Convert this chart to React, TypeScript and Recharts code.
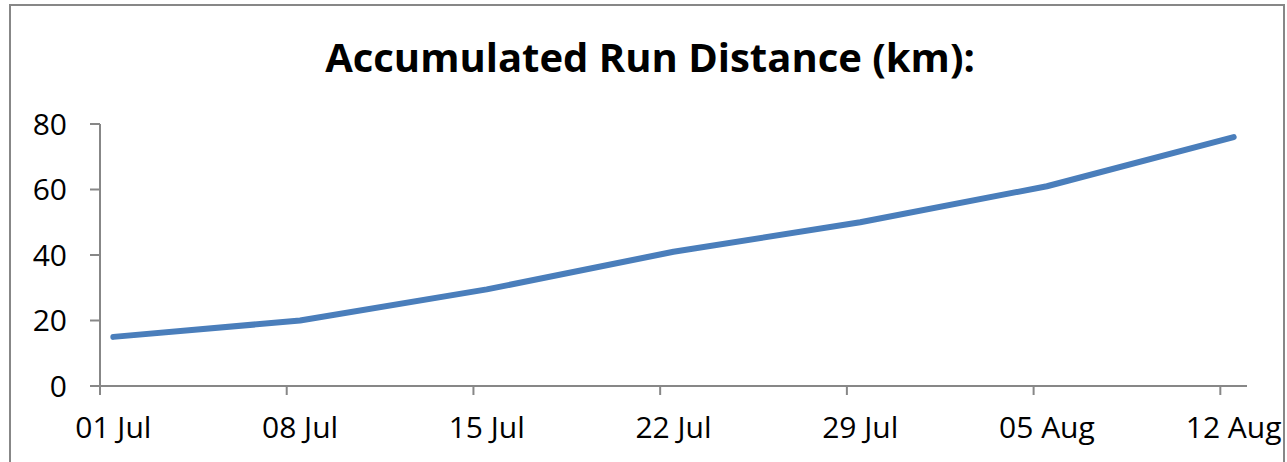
import React from 'react';
import { LineChart, Line, XAxis, YAxis } from 'recharts';

// days counted from 01 Jul, one point per week
const runDays = [0, 7, 14, 21, 28, 35, 42];
const runDistance = [15, 20, 29.5, 41, 50, 61, 76];
const xTickLabels = ['01 Jul', '08 Jul', '15 Jul', '22 Jul', '29 Jul', '05 Aug', '12 Aug'];
const yTicks = [0, 20, 40, 60, 80];

const W = 1287;
const H = 462;
const margin = { top: 124, right: 40, bottom: 16, left: 40 };
const yAxisWidth = 60;
const plotWidth = W - margin.left - margin.right - yAxisWidth;
const dayCount = 43; // 01 Jul .. 12 Aug, each day is one slot
const halfDay = plotWidth / dayCount / 2;

const axisColor = '#878787';
const font = '"Open Sans", sans-serif';

const data = runDays.map((d, i) => ({ day: d, km: runDistance[i] }));

const DateTick = (props: any) => {
  const { x, y, payload } = props;
  const idx = runDays.indexOf(payload.value);
  return (
    <g>
      <line x1={x - halfDay} y1={y} x2={x - halfDay} y2={y + 9} stroke={axisColor} strokeWidth={2} />
      <text x={x} y={y + 52} textAnchor="middle" fill="#000" fontSize={30} fontFamily={font}>
        {xTickLabels[idx]}
      </text>
    </g>
  );
};

const App: React.FC = () => {
  return (
    <div style={{ position: 'absolute', left: 0, top: 0, width: W, height: H, background: '#fff', overflow: 'hidden' }}>
      <div
        style={{
          position: 'absolute',
          left: 9,
          top: 4,
          width: 1272,
          height: 480,
          border: `2px solid ${axisColor}`,
        }}
      />
      <div
        style={{
          position: 'absolute',
          left: 0,
          width: 1300,
          top: 31,
          textAlign: 'center',
          fontFamily: font,
          fontWeight: 700,
          fontSize: 40,
          lineHeight: '52px',
          color: '#000',
        }}
      >
        Accumulated Run Distance (km):
      </div>
      <div style={{ position: 'absolute', left: 0, top: 0 }}>
        <LineChart width={W} height={H} data={data} margin={margin}>
          <XAxis
            dataKey="day"
            type="number"
            domain={[-0.5, 42.5]}
            ticks={runDays}
            interval={0}
            tickLine={false}
            tickSize={0}
            tickMargin={0}
            height={60}
            axisLine={{ stroke: axisColor, strokeWidth: 2 }}
            tick={<DateTick />}
          />
          <YAxis
            domain={[0, 80]}
            ticks={yTicks}
            width={yAxisWidth}
            tickSize={10}
            tickMargin={23}
            axisLine={{ stroke: axisColor, strokeWidth: 2 }}
            tickLine={{ stroke: axisColor, strokeWidth: 2 }}
            tick={{ fill: '#000', fontSize: 30, fontFamily: font }}
          />
          <Line
            type="linear"
            dataKey="km"
            stroke="#4a7ebb"
            strokeWidth={6}
            strokeLinecap="round"
            strokeLinejoin="round"
            dot={false}
            isAnimationActive={false}
          />
        </LineChart>
      </div>
    </div>
  );
};

export default App;
